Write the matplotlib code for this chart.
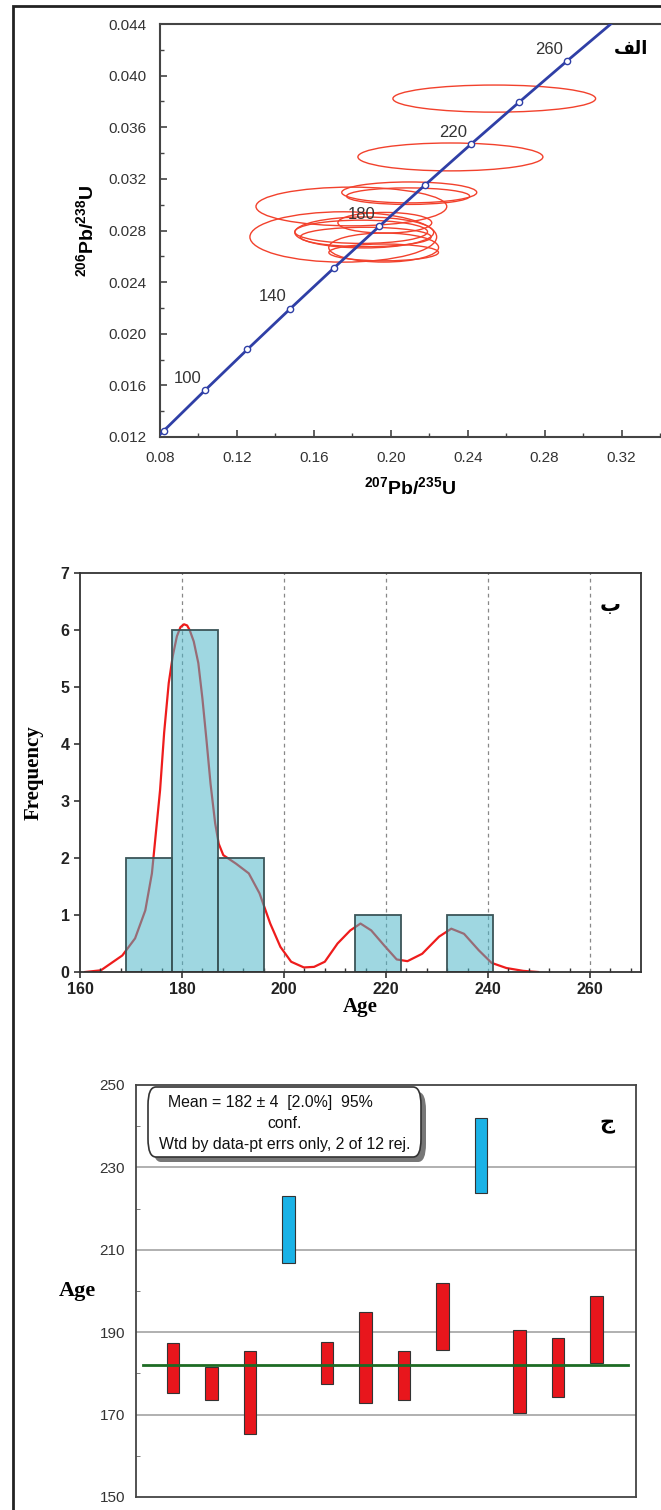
import numpy as np
import matplotlib
matplotlib.use("Agg")
import matplotlib.pyplot as plt
from matplotlib.patches import Ellipse, Rectangle, FancyBboxPatch
from matplotlib.ticker import MultipleLocator

plt.rcParams['font.family'] = ['Liberation Sans Narrow', 'Liberation Sans', 'DejaVu Sans']
plt.rcParams['mathtext.fontset'] = 'custom'
plt.rcParams['mathtext.rm'] = 'Liberation Sans'
plt.rcParams['mathtext.bf'] = 'Liberation Sans:bold'

# ---- panel 1: concordia ----
conc_age = [80, 100, 120, 140, 160, 180, 200, 220, 240, 260, 280]
conc_x = [0.08198, 0.10350, 0.12545, 0.14784, 0.17068, 0.19397, 0.21771, 0.24192, 0.26664, 0.29182, 0.31752]
conc_y = [0.012487, 0.015633, 0.018789, 0.021955, 0.025131, 0.028316, 0.031511, 0.034717, 0.037932, 0.041157, 0.044392]
line_x = [0.0777] + conc_x
line_y = [0.01186] + conc_y
label_ages = [100, 140, 180, 220, 260]

# error ellipses (centre, full width, full height)
ell_x = [0.2538, 0.2310, 0.2096, 0.2090, 0.1795, 0.1753, 0.1862, 0.1963, 0.1969, 0.1846, 0.1963, 0.1870]
ell_y = [0.03822, 0.0337, 0.03095, 0.03066, 0.02986, 0.0275, 0.02785, 0.02668, 0.0286, 0.0279, 0.0263, 0.0275]
ell_w = [0.1054, 0.0962, 0.0702, 0.0640, 0.0992, 0.0971, 0.0722, 0.0571, 0.0488, 0.069, 0.057, 0.068]
ell_h = [0.0021, 0.00216, 0.00162, 0.00128, 0.0030, 0.0039, 0.0024, 0.00225, 0.0016, 0.0018, 0.0013, 0.0015]

# ---- panel 2: histogram + density ----
bin_left = [169, 178, 187, 214, 232]
bin_count = [2, 6, 2, 1, 1]
bin_width = 9
kde_age = [161, 164.1, 168.3, 170.8, 172.8, 174.1, 175.7, 176.5, 177.4, 178.2, 179.0, 179.7, 180.4,
           181.0, 181.5, 182.3, 183.2, 184.0, 184.8, 185.6, 186.5, 187.2, 188.1, 190.6, 193.1,
           195.2, 197.3, 199.3, 201.4, 203.9, 205.9, 208.0, 210.5, 213.0, 215.0, 217.1, 219.6,
           222.1, 224.2, 227.1, 230.4, 232.8, 235.3, 238.2, 240.7, 243.6, 246.9, 249.8]
kde_freq = [0.0, 0.03, 0.29, 0.59, 1.08, 1.73, 3.19, 4.2, 5.07, 5.55, 5.89, 6.05, 6.10,
            6.08, 6.0, 5.8, 5.42, 4.8, 4.07, 3.3, 2.61, 2.25, 2.05, 1.90, 1.73,
            1.38, 0.85, 0.44, 0.18, 0.08, 0.09, 0.18, 0.50, 0.73, 0.85, 0.73, 0.47,
            0.22, 0.19, 0.32, 0.62, 0.76, 0.67, 0.38, 0.16, 0.07, 0.02, 0.0]

# ---- panel 3: weighted mean ----
pt_lo = [175.3, 173.5, 165.2, 206.7, 177.5, 172.7, 173.5, 185.6, 223.7, 170.4, 174.3, 182.6]
pt_hi = [187.5, 181.6, 185.5, 223.0, 187.5, 194.9, 185.5, 202.0, 242.1, 190.6, 188.7, 198.8]
pt_rejected = [False, False, False, True, False, False, False, False, True, False, False, False]
mean_age = 182

W, H = 661, 1510
fig = plt.figure(figsize=(W / 100, H / 100), dpi=100)

def rect(l, t, r, b):
    return [l / W, (H - b) / H, (r - l) / W, (b - t) / H]

# outer frame
fig.patches.append(Rectangle((13 / W, -0.01), 1.0, (H - 6) / H + 0.01, transform=fig.transFigure,
                             fill=False, edgecolor='#222222', linewidth=2))

# ===== panel 1 =====
ax1 = fig.add_axes(rect(160, 24, 661, 437))
ax1.set_xlim(0.08, 0.3405)
ax1.set_ylim(0.012, 0.044)
for cx, cy, w, h in zip(ell_x, ell_y, ell_w, ell_h):
    ax1.add_patch(Ellipse((cx, cy), w, h, fill=False, edgecolor='#f2412c', linewidth=1.0))
ax1.plot(line_x, line_y, color='#2f3fa6', linewidth=2.0, zorder=3)
ax1.plot(conc_x, conc_y, linestyle='none', marker='o', markersize=4.5,
         markerfacecolor='white', markeredgecolor='#2f3fa6', markeredgewidth=1.0, zorder=4)
for a in label_ages:
    i = conc_age.index(a)
    ax1.annotate(str(a), (conc_x[i], conc_y[i]), xytext=(-3, 3), textcoords='offset points',
                 ha='right', va='bottom', fontsize=12, color='#333333',
                 family=['Liberation Sans', 'DejaVu Sans'], zorder=5)
ax1.xaxis.set_major_locator(MultipleLocator(0.04))
ax1.xaxis.set_minor_locator(MultipleLocator(0.02))
ax1.yaxis.set_major_locator(MultipleLocator(0.004))
ax1.yaxis.set_minor_locator(MultipleLocator(0.002))
ax1.xaxis.set_major_formatter(plt.FuncFormatter(lambda v, p: '%.2f' % v))
ax1.yaxis.set_major_formatter(plt.FuncFormatter(lambda v, p: '%.3f' % v))
ax1.tick_params(which='both', direction='in', colors='#444444', labelsize=11, labelcolor='#333333')
ax1.tick_params(which='major', length=5, width=1.2, pad=10)
ax1.tick_params(which='minor', length=3, width=1.0)
for s in ax1.spines.values():
    s.set_color('#444444')
    s.set_linewidth(1.5)
ax1.spines['right'].set_visible(False)
ax1.set_xlabel(r'$\mathbf{^{207}Pb/^{235}U}$', fontsize=14, labelpad=8)
ax1.set_ylabel(r'$\mathbf{^{206}Pb/^{238}U}$', fontsize=14, labelpad=8)
ax1.text(0.94, 0.94, '\uFED2\uFEDF\uFE8D', transform=ax1.transAxes, ha='center', va='center',
         fontsize=13, fontweight='bold', family=['DejaVu Sans'])

# ===== panel 2 =====
ax2 = fig.add_axes(rect(80, 573, 641, 972))
ax2.set_xlim(160, 270)
ax2.set_ylim(0, 7)
for g in [180, 200, 220, 240, 260]:
    ax2.axvline(g, color='#888888', linestyle=(0, (3, 3)), linewidth=0.9, zorder=0)
ax2.plot(kde_age, kde_freq, color='#ee1c1c', linewidth=1.6, zorder=1)
ax2.bar(bin_left, bin_count, width=bin_width, align='edge',
        facecolor=(75 / 255, 181 / 255, 200 / 255, 0.53), edgecolor='#3c5558', linewidth=1.3, zorder=2)
ax2.xaxis.set_major_locator(MultipleLocator(20))
ax2.xaxis.set_minor_locator(MultipleLocator(4))
ax2.yaxis.set_major_locator(MultipleLocator(1))
ax2.tick_params(which='both', colors='#333333', labelsize=11.5, labelcolor='#222222')
ax2.tick_params(which='major', direction='out', length=4, width=1.2)
ax2.tick_params(which='minor', direction='in', length=3, width=1.0)
for lab in ax2.get_xticklabels() + ax2.get_yticklabels():
    lab.set_fontweight('bold')
for s in ax2.spines.values():
    s.set_color('#333333')
    s.set_linewidth(1.3)
ax2.set_xlabel('Age', fontsize=15, fontweight='bold', family=['Liberation Serif'], labelpad=0)
ax2.set_ylabel('Frequency', fontsize=15, fontweight='bold', family=['Liberation Serif'], labelpad=12)
ax2.text(0.945, 0.92, '\uFE8F', transform=ax2.transAxes, ha='center', va='center',
         fontsize=15, fontweight='bold', family=['DejaVu Sans'])

# ===== panel 3 =====
ax3 = fig.add_axes(rect(136, 1085, 636, 1497))
ax3.set_xlim(0.04, 13.03)
ax3.set_ylim(150, 250)
for g in [170, 190, 210, 230]:
    ax3.axhline(g, color='#aaaaaa', linewidth=1.3, zorder=0)
pos = np.arange(1, len(pt_lo) + 1)
cols = ['#1ab2e6' if r else '#e8161c' for r in pt_rejected]
ax3.bar(pos, np.array(pt_hi) - np.array(pt_lo), bottom=pt_lo, width=0.32,
        color=cols, edgecolor='#333333', linewidth=0.8, zorder=2)
ax3.plot([0.23, 12.83], [mean_age, mean_age], color='#1d6b24', linewidth=2.0, zorder=3)
ax3.set_xticks([])
ax3.set_yticks(np.arange(150, 251, 20))
ax3.set_yticks(np.arange(160, 250, 20), minor=True)
ax3.tick_params(axis='y', which='major', length=0, pad=8, labelsize=11, labelcolor='#333333')
ax3.tick_params(axis='y', which='minor', direction='in', length=3, color='#666666')
for s in ax3.spines.values():
    s.set_color('#444444')
    s.set_linewidth(1.3)
ax3.set_ylabel('Age', fontsize=16, fontweight='bold', family=['Liberation Serif'], rotation=0,
               labelpad=16, va='center')
ax3.text(0.942, 0.905, '\uFE9D', transform=ax3.transAxes, ha='center', va='center',
         fontsize=15, fontweight='bold', family=['DejaVu Sans'])

# rounded text box with shadow (figure pixel coords)
bx0, by0, bx1, by1 = 148, 1087, 421, 1157
shadow = FancyBboxPatch(((bx0 + 5) / W, (H - by1 - 5) / H), (bx1 - bx0) / W, (by1 - by0) / H,
                        boxstyle='round,pad=0,rounding_size=0.012', transform=fig.transFigure,
                        facecolor='#777777', edgecolor='none', zorder=5)
box = FancyBboxPatch((bx0 / W, (H - by1) / H), (bx1 - bx0) / W, (by1 - by0) / H,
                     boxstyle='round,pad=0,rounding_size=0.012', transform=fig.transFigure,
                     facecolor='white', edgecolor='#333333', linewidth=1.2, zorder=6)
fig.add_artist(shadow)
fig.add_artist(box)
bc = (bx0 + bx1) / 2 / W
fig.text(bc - 14 / W, (H - 1103) / H, 'Mean = 182 \u00b1 4  [2.0%]  95%', ha='center', va='center',
         fontsize=11.4, zorder=7, color='#111111')
fig.text(bc, (H - 1124) / H, 'conf.', ha='center', va='center', fontsize=11.4, zorder=7, color='#111111')
fig.text(bc, (H - 1145) / H, 'Wtd by data-pt errs only, 2 of 12 rej.', ha='center', va='center',
         fontsize=11.4, zorder=7, color='#111111')

fig.savefig('out.png', dpi=100)
